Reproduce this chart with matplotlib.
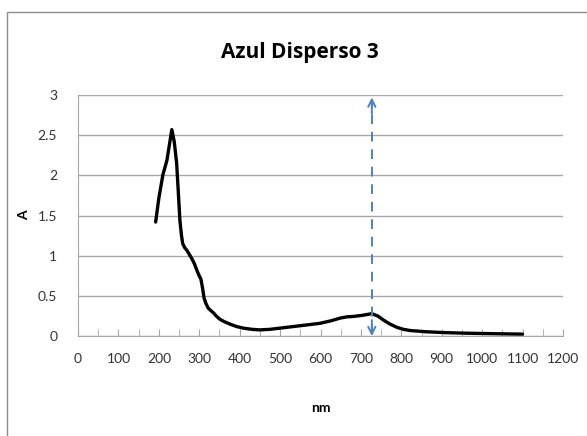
import matplotlib.pyplot as plt
from matplotlib.patches import Rectangle

# spectrum
nm = [192, 200, 210, 215, 220, 226, 232, 238, 244, 248, 252, 256, 259, 264,
      269, 275, 281, 288, 294, 299, 304, 308, 312, 317, 322, 328, 335, 342,
      351, 362, 376, 392, 409, 430, 450, 475, 500, 525, 550, 575, 599, 625,
      649, 665, 681, 705, 727, 742, 756, 772, 789, 805, 822, 860, 904, 950,
      1003, 1050, 1100]
absorb = [1.42, 1.72, 2.01, 2.10, 2.19, 2.38, 2.57, 2.42, 2.15, 1.80, 1.44,
          1.25, 1.15, 1.10, 1.07, 1.02, 0.97, 0.90, 0.82, 0.76, 0.71, 0.60,
          0.47, 0.40, 0.35, 0.32, 0.29, 0.25, 0.21, 0.18, 0.15, 0.12, 0.10,
          0.085, 0.078, 0.085, 0.10, 0.115, 0.13, 0.145, 0.16, 0.19, 0.225,
          0.24, 0.245, 0.26, 0.28, 0.25, 0.20, 0.15, 0.11, 0.085, 0.07, 0.055,
          0.045, 0.038, 0.033, 0.029, 0.025]
arrow_x = 727
arrow_top = 2.97
xticks = list(range(0, 1201, 100))
yticks = [0, 0.5, 1, 1.5, 2, 2.5, 3]
ytick_labels = ['0', '0.5', '1', '1.5', '2', '2.5', '3']

plt.rcParams['font.family'] = ['Lato', 'DejaVu Sans']

fig = plt.figure(figsize=(5.87, 4.36), dpi=100)
ax = fig.add_axes([0.133, 0.229, 0.826, 0.553])

# outer chart frame
fig.patches.append(Rectangle((0.012, -0.1), 1.2, 1.072, transform=fig.transFigure,
                             fill=False, edgecolor='#8c8c8c', linewidth=1.0))

ax.plot(nm, absorb, color='black', linewidth=2.4, solid_joinstyle='round',
        solid_capstyle='round')

# dashed double arrow
blue = '#4f81bd'
ax.plot([arrow_x, arrow_x], [0.03, arrow_top - 0.03], color=blue,
        linestyle=(0, (5, 4)), linewidth=1.4)
for tip, base in [(arrow_top, arrow_top - 0.2), (0, 0.2)]:
    ax.annotate('', xy=(arrow_x, tip), xytext=(arrow_x, base),
                arrowprops=dict(arrowstyle='->', color=blue, linewidth=1.4,
                                mutation_scale=13, shrinkA=0, shrinkB=0))

ax.set_xlim(0, 1200)
ax.set_ylim(0, 3)
ax.set_xticks(xticks)
ax.set_xticks(range(0, 1201, 50), minor=True)
ax.set_yticks(yticks)
ax.set_yticklabels(ytick_labels)
ax.grid(axis='y', color='#a6a6a6', linewidth=1.0)
ax.set_axisbelow(True)
for s in ['top', 'right']:
    ax.spines[s].set_visible(False)
for s in ['left', 'bottom']:
    ax.spines[s].set_color('#a6a6a6')
ax.tick_params(axis='x', which='both', direction='in', length=5, color='#a6a6a6',
               labelsize=10, labelcolor='#333333', pad=12)
ax.tick_params(axis='y', length=0, labelsize=10, labelcolor='#333333', pad=15)

fig.text(0.511, 0.88, 'Azul Disperso 3', ha='center', va='center', fontsize=15,
         fontweight='bold', family=['Open Sans', 'DejaVu Sans'])
fig.text(0.547, 0.064, 'nm', ha='center', va='center', fontsize=10, fontweight='bold')
ax.set_ylabel('A', fontsize=10, fontweight='bold')
ax.yaxis.set_label_coords(-0.1, 0.5)

fig.savefig('out.png', dpi=100)
